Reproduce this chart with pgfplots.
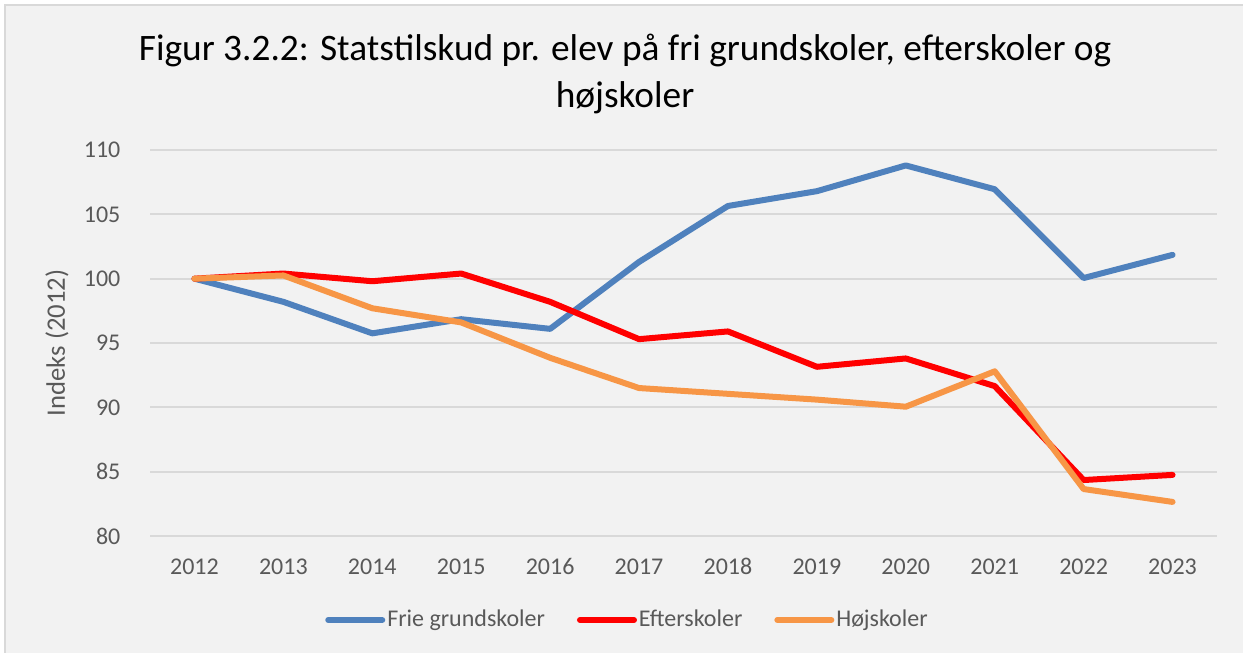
\documentclass[border=0pt]{standalone}
\usepackage{fontspec}
\setmainfont{Carlito}
\usepackage{pgfplots}
\pgfplotsset{compat=1.18}
\definecolor{bgc}{HTML}{F2F2F2}
\definecolor{brd}{HTML}{D9D9D9}
\definecolor{gridc}{HTML}{D9D9D9}
\definecolor{txt}{HTML}{595959}
\definecolor{cblue}{HTML}{4F81BD}
\definecolor{cred}{HTML}{FF0000}
\definecolor{corange}{HTML}{F79646}
\begin{document}
\begin{tikzpicture}
\useasboundingbox (0,0) rectangle (466.125pt,244.5pt);
\fill[white] (0,0) rectangle (466.125pt,244.5pt);
\fill[bgc] (1.9pt,-5pt) rectangle (475pt,242.6pt);
\draw[brd, line width=0.75pt] (1.9pt,-5pt) -- (1.9pt,242.6pt) -- (475pt,242.6pt);
\node[align=center, font=\fontsize{14}{17.6}\selectfont, text=black, inner sep=0pt] at (234.4pt,216.9pt)
  {Figur 3.2.2: Statstilskud pr. elev på fri grundskoler, efterskoler og\\højskoler};
\begin{axis}[
  at={(56.25pt,43.5pt)}, anchor=south west,
  scale only axis, width=400.125pt, height=144.75pt,
  xmin=2011.5, xmax=2023.5, ymin=80, ymax=110,
  xtick={2012,2013,2014,2015,2016,2017,2018,2019,2020,2021,2022,2023},
  ytick={80,85,90,95,100,105,110},
  ymajorgrids, grid style={gridc, line width=0.75pt},
  axis line style={draw=none},
  major tick length=0pt,
  /pgf/number format/1000 sep={},
  /pgf/number format/assume math mode=true,
  tick label style={font=\fontsize{9}{11}\selectfont, text=txt},
  xticklabel style={inner sep=0pt, anchor=north, yshift=-8.25pt},
  yticklabel style={inner sep=0pt, anchor=east, xshift=-10.9pt},
  ylabel={Indeks (2012)},
  every axis y label/.style={at={(axis description cs:-0.0872,0.5)}, anchor=center, rotate=90, font=\fontsize{10}{12}\selectfont, text=txt},
  legend columns=3,
  legend style={at={(axis description cs:0.4475,-0.2176)}, anchor=center, draw=none, fill=none,
    font=\fontsize{9}{11}\selectfont, text=txt,
    nodes={inner xsep=0.75pt},
    /tikz/every even column/.append style={column sep=11.25pt}},
  legend image code/.code={\draw[#1, line cap=round] (0pt,0pt) -- (20.25pt,0pt);},
  every axis plot/.append style={line width=2.25pt, line cap=round, line join=round, mark=none},
]
\addplot[cblue] coordinates {(2012,100) (2013,98.2) (2014,95.75) (2015,96.85) (2016,96.1) (2017,101.3) (2018,105.65) (2019,106.8) (2020,108.8) (2021,106.95) (2022,100.05) (2023,101.85)};
\addlegendentry{Frie grundskoler}
\addplot[cred] coordinates {(2012,100) (2013,100.4) (2014,99.8) (2015,100.4) (2016,98.2) (2017,95.3) (2018,95.9) (2019,93.15) (2020,93.8) (2021,91.65) (2022,84.35) (2023,84.75)};
\addlegendentry{Efterskoler}
\addplot[corange] coordinates {(2012,100) (2013,100.25) (2014,97.7) (2015,96.6) (2016,93.85) (2017,91.5) (2018,91.05) (2019,90.6) (2020,90.05) (2021,92.8) (2022,83.65) (2023,82.65)};
\addlegendentry{Højskoler}
\end{axis}
\end{tikzpicture}
\end{document}
